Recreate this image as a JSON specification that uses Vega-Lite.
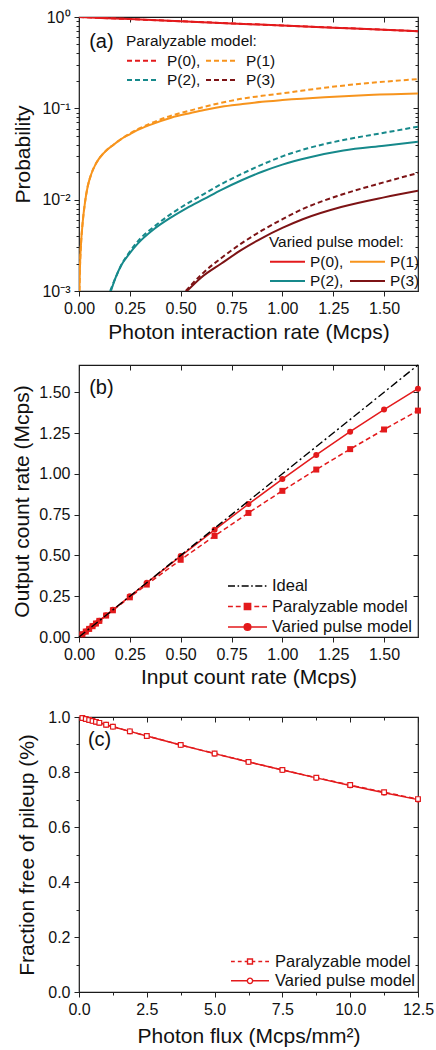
{
  "$schema": "https://vega.github.io/schema/vega-lite/v6.json",
  "background": "white",
  "padding": {"left": 11, "top": 8, "right": 3, "bottom": 3},
  "config": {
    "font": "Liberation Sans",
    "view": {"stroke": "#1a1a1a", "strokeWidth": 1.2},
    "axis": {"labelFontSize": 16, "titleFontSize": 21, "titleFontWeight": "normal", "labelColor": "#111", "titleColor": "#111", "tickColor": "#222", "tickWidth": 1, "domain": false, "grid": false, "labelPadding": 4, "labelOverlap": false, "labelFlush": false},
    "legend": {"labelColor": "#111", "titleColor": "#111"}
  },
  "resolve": {"scale": {"color": "independent"}, "legend": {"color": "independent"}},
  "datasets": {
    "a": [
      {"x": 0, "p": 1, "s": "P(0)", "m": "P"}, {"x": 0.25, "p": 0.948, "s": "P(0)", "m": "P"}, {"x": 0.5, "p": 0.898, "s": "P(0)", "m": "P"}, {"x": 0.75, "p": 0.851, "s": "P(0)", "m": "P"}, {"x": 1, "p": 0.807, "s": "P(0)", "m": "P"}, {"x": 1.25, "p": 0.765, "s": "P(0)", "m": "P"}, {"x": 1.5, "p": 0.725, "s": "P(0)", "m": "P"}, {"x": 1.667, "p": 0.699, "s": "P(0)", "m": "P"},
      {"x": 0, "p": 1, "s": "P(0)", "m": "V"}, {"x": 0.25, "p": 0.948, "s": "P(0)", "m": "V"}, {"x": 0.5, "p": 0.898, "s": "P(0)", "m": "V"}, {"x": 0.75, "p": 0.851, "s": "P(0)", "m": "V"}, {"x": 1, "p": 0.807, "s": "P(0)", "m": "V"}, {"x": 1.25, "p": 0.765, "s": "P(0)", "m": "V"}, {"x": 1.5, "p": 0.725, "s": "P(0)", "m": "V"}, {"x": 1.667, "p": 0.699, "s": "P(0)", "m": "V"},
      {"x": 0.002, "p": 0.001, "s": "P(1)", "m": "V"}, {"x": 0.005, "p": 0.0019, "s": "P(1)", "m": "V"}, {"x": 0.01, "p": 0.0033, "s": "P(1)", "m": "V"}, {"x": 0.018, "p": 0.0056, "s": "P(1)", "m": "V"}, {"x": 0.03, "p": 0.0095, "s": "P(1)", "m": "V"}, {"x": 0.043, "p": 0.014, "s": "P(1)", "m": "V"}, {"x": 0.06, "p": 0.019, "s": "P(1)", "m": "V"}, {"x": 0.084, "p": 0.025, "s": "P(1)", "m": "V"}, {"x": 0.125, "p": 0.033, "s": "P(1)", "m": "V"}, {"x": 0.17, "p": 0.04, "s": "P(1)", "m": "V"}, {"x": 0.207, "p": 0.046, "s": "P(1)", "m": "V"}, {"x": 0.25, "p": 0.052, "s": "P(1)", "m": "V"}, {"x": 0.289, "p": 0.058, "s": "P(1)", "m": "V"}, {"x": 0.35, "p": 0.066, "s": "P(1)", "m": "V"}, {"x": 0.453, "p": 0.079, "s": "P(1)", "m": "V"}, {"x": 0.55, "p": 0.089, "s": "P(1)", "m": "V"}, {"x": 0.616, "p": 0.096, "s": "P(1)", "m": "V"}, {"x": 0.7, "p": 0.104, "s": "P(1)", "m": "V"}, {"x": 0.797, "p": 0.111, "s": "P(1)", "m": "V"}, {"x": 0.9, "p": 0.118, "s": "P(1)", "m": "V"}, {"x": 1.0, "p": 0.123, "s": "P(1)", "m": "V"}, {"x": 1.207, "p": 0.132, "s": "P(1)", "m": "V"}, {"x": 1.4, "p": 0.139, "s": "P(1)", "m": "V"}, {"x": 1.667, "p": 0.145, "s": "P(1)", "m": "V"},
      {"x": 0.002, "p": 0.001, "s": "P(1)", "m": "P"}, {"x": 0.005, "p": 0.0019, "s": "P(1)", "m": "P"}, {"x": 0.01, "p": 0.0033, "s": "P(1)", "m": "P"}, {"x": 0.018, "p": 0.0056, "s": "P(1)", "m": "P"}, {"x": 0.03, "p": 0.0095, "s": "P(1)", "m": "P"}, {"x": 0.043, "p": 0.014, "s": "P(1)", "m": "P"}, {"x": 0.06, "p": 0.019, "s": "P(1)", "m": "P"}, {"x": 0.084, "p": 0.025, "s": "P(1)", "m": "P"}, {"x": 0.125, "p": 0.033, "s": "P(1)", "m": "P"}, {"x": 0.17, "p": 0.04, "s": "P(1)", "m": "P"}, {"x": 0.207, "p": 0.046, "s": "P(1)", "m": "P"}, {"x": 0.25, "p": 0.053, "s": "P(1)", "m": "P"}, {"x": 0.289, "p": 0.059, "s": "P(1)", "m": "P"}, {"x": 0.35, "p": 0.068, "s": "P(1)", "m": "P"}, {"x": 0.453, "p": 0.083, "s": "P(1)", "m": "P"}, {"x": 0.55, "p": 0.095, "s": "P(1)", "m": "P"}, {"x": 0.616, "p": 0.104, "s": "P(1)", "m": "P"}, {"x": 0.7, "p": 0.115, "s": "P(1)", "m": "P"}, {"x": 0.797, "p": 0.127, "s": "P(1)", "m": "P"}, {"x": 0.9, "p": 0.137, "s": "P(1)", "m": "P"}, {"x": 1.0, "p": 0.146, "s": "P(1)", "m": "P"}, {"x": 1.207, "p": 0.168, "s": "P(1)", "m": "P"}, {"x": 1.4, "p": 0.187, "s": "P(1)", "m": "P"}, {"x": 1.667, "p": 0.209, "s": "P(1)", "m": "P"},
      {"x": 0.157, "p": 0.001, "s": "P(2)", "m": "V"}, {"x": 0.18, "p": 0.0014, "s": "P(2)", "m": "V"}, {"x": 0.207, "p": 0.0019, "s": "P(2)", "m": "V"}, {"x": 0.25, "p": 0.0026, "s": "P(2)", "m": "V"}, {"x": 0.289, "p": 0.0033, "s": "P(2)", "m": "V"}, {"x": 0.371, "p": 0.0048, "s": "P(2)", "m": "V"}, {"x": 0.453, "p": 0.0064, "s": "P(2)", "m": "V"}, {"x": 0.53, "p": 0.0081, "s": "P(2)", "m": "V"}, {"x": 0.616, "p": 0.0102, "s": "P(2)", "m": "V"}, {"x": 0.7, "p": 0.0128, "s": "P(2)", "m": "V"}, {"x": 0.797, "p": 0.0162, "s": "P(2)", "m": "V"}, {"x": 0.9, "p": 0.0202, "s": "P(2)", "m": "V"}, {"x": 1.0, "p": 0.0242, "s": "P(2)", "m": "V"}, {"x": 1.125, "p": 0.0288, "s": "P(2)", "m": "V"}, {"x": 1.3, "p": 0.0345, "s": "P(2)", "m": "V"}, {"x": 1.5, "p": 0.039, "s": "P(2)", "m": "V"}, {"x": 1.667, "p": 0.043, "s": "P(2)", "m": "V"},
      {"x": 0.153, "p": 0.001, "s": "P(2)", "m": "P"}, {"x": 0.18, "p": 0.0014, "s": "P(2)", "m": "P"}, {"x": 0.207, "p": 0.0019, "s": "P(2)", "m": "P"}, {"x": 0.25, "p": 0.0027, "s": "P(2)", "m": "P"}, {"x": 0.289, "p": 0.0035, "s": "P(2)", "m": "P"}, {"x": 0.371, "p": 0.0051, "s": "P(2)", "m": "P"}, {"x": 0.453, "p": 0.007, "s": "P(2)", "m": "P"}, {"x": 0.53, "p": 0.009, "s": "P(2)", "m": "P"}, {"x": 0.616, "p": 0.0116, "s": "P(2)", "m": "P"}, {"x": 0.7, "p": 0.0148, "s": "P(2)", "m": "P"}, {"x": 0.797, "p": 0.019, "s": "P(2)", "m": "P"}, {"x": 0.9, "p": 0.0242, "s": "P(2)", "m": "P"}, {"x": 1.0, "p": 0.0298, "s": "P(2)", "m": "P"}, {"x": 1.125, "p": 0.0365, "s": "P(2)", "m": "P"}, {"x": 1.3, "p": 0.045, "s": "P(2)", "m": "P"}, {"x": 1.5, "p": 0.054, "s": "P(2)", "m": "P"}, {"x": 1.667, "p": 0.063, "s": "P(2)", "m": "P"},
      {"x": 0.531, "p": 0.001, "s": "P(3)", "m": "V"}, {"x": 0.6, "p": 0.0014, "s": "P(3)", "m": "V"}, {"x": 0.7, "p": 0.002, "s": "P(3)", "m": "V"}, {"x": 0.797, "p": 0.0028, "s": "P(3)", "m": "V"}, {"x": 0.9, "p": 0.0038, "s": "P(3)", "m": "V"}, {"x": 1.0, "p": 0.0049, "s": "P(3)", "m": "V"}, {"x": 1.1, "p": 0.0061, "s": "P(3)", "m": "V"}, {"x": 1.289, "p": 0.0083, "s": "P(3)", "m": "V"}, {"x": 1.5, "p": 0.0106, "s": "P(3)", "m": "V"}, {"x": 1.667, "p": 0.0125, "s": "P(3)", "m": "V"},
      {"x": 0.525, "p": 0.001, "s": "P(3)", "m": "P"}, {"x": 0.6, "p": 0.0015, "s": "P(3)", "m": "P"}, {"x": 0.7, "p": 0.0023, "s": "P(3)", "m": "P"}, {"x": 0.797, "p": 0.0033, "s": "P(3)", "m": "P"}, {"x": 0.9, "p": 0.0046, "s": "P(3)", "m": "P"}, {"x": 1.0, "p": 0.0061, "s": "P(3)", "m": "P"}, {"x": 1.1, "p": 0.0079, "s": "P(3)", "m": "P"}, {"x": 1.289, "p": 0.0113, "s": "P(3)", "m": "P"}, {"x": 1.5, "p": 0.0155, "s": "P(3)", "m": "P"}, {"x": 1.667, "p": 0.0196, "s": "P(3)", "m": "P"}
    ],
    "b": [
      {"x": 0, "y": 0, "m": "Ideal"}, {"x": 1.667, "y": 1.667, "m": "Ideal"},
      {"x": 0.0167, "y": 0.0167, "m": "Paralyzable model"}, {"x": 0.0333, "y": 0.0332, "m": "Paralyzable model"}, {"x": 0.05, "y": 0.0497, "m": "Paralyzable model"}, {"x": 0.0667, "y": 0.0662, "m": "Paralyzable model"}, {"x": 0.0833, "y": 0.0825, "m": "Paralyzable model"}, {"x": 0.1, "y": 0.0989, "m": "Paralyzable model"}, {"x": 0.1333, "y": 0.1314, "m": "Paralyzable model"}, {"x": 0.1667, "y": 0.1637, "m": "Paralyzable model"}, {"x": 0.25, "y": 0.2432, "m": "Paralyzable model"}, {"x": 0.3333, "y": 0.3213, "m": "Paralyzable model"}, {"x": 0.5, "y": 0.4732, "m": "Paralyzable model"}, {"x": 0.6667, "y": 0.6195, "m": "Paralyzable model"}, {"x": 0.8333, "y": 0.7603, "m": "Paralyzable model"}, {"x": 1.0, "y": 0.8958, "m": "Paralyzable model"}, {"x": 1.1667, "y": 1.0262, "m": "Paralyzable model"}, {"x": 1.3333, "y": 1.1514, "m": "Paralyzable model"}, {"x": 1.5, "y": 1.2718, "m": "Paralyzable model"}, {"x": 1.6667, "y": 1.3875, "m": "Paralyzable model"},
      {"x": 0.0167, "y": 0.0167, "m": "Varied pulse model"}, {"x": 0.0333, "y": 0.0333, "m": "Varied pulse model"}, {"x": 0.05, "y": 0.05, "m": "Varied pulse model"}, {"x": 0.0667, "y": 0.0667, "m": "Varied pulse model"}, {"x": 0.0833, "y": 0.0833, "m": "Varied pulse model"}, {"x": 0.1, "y": 0.1, "m": "Varied pulse model"}, {"x": 0.1333, "y": 0.1332, "m": "Varied pulse model"}, {"x": 0.1667, "y": 0.1665, "m": "Varied pulse model"}, {"x": 0.25, "y": 0.2495, "m": "Varied pulse model"}, {"x": 0.3333, "y": 0.3321, "m": "Varied pulse model"}, {"x": 0.5, "y": 0.4959, "m": "Varied pulse model"}, {"x": 0.6667, "y": 0.6571, "m": "Varied pulse model"}, {"x": 0.8333, "y": 0.8146, "m": "Varied pulse model"}, {"x": 1.0, "y": 0.9678, "m": "Varied pulse model"}, {"x": 1.1667, "y": 1.1159, "m": "Varied pulse model"}, {"x": 1.3333, "y": 1.258, "m": "Varied pulse model"}, {"x": 1.5, "y": 1.3936, "m": "Varied pulse model"}, {"x": 1.6667, "y": 1.522, "m": "Varied pulse model"}
    ],
    "c": [
      {"x": 0.125, "y": 0.9964, "m": "Paralyzable model"}, {"x": 0.25, "y": 0.9929, "m": "Paralyzable model"}, {"x": 0.375, "y": 0.9893, "m": "Paralyzable model"}, {"x": 0.5, "y": 0.9858, "m": "Paralyzable model"}, {"x": 0.625, "y": 0.9823, "m": "Paralyzable model"}, {"x": 0.75, "y": 0.9788, "m": "Paralyzable model"}, {"x": 1.0, "y": 0.9718, "m": "Paralyzable model"}, {"x": 1.25, "y": 0.9649, "m": "Paralyzable model"}, {"x": 1.875, "y": 0.9478, "m": "Paralyzable model"}, {"x": 2.5, "y": 0.931, "m": "Paralyzable model"}, {"x": 3.75, "y": 0.8985, "m": "Paralyzable model"}, {"x": 5.0, "y": 0.8671, "m": "Paralyzable model"}, {"x": 6.25, "y": 0.8368, "m": "Paralyzable model"}, {"x": 7.5, "y": 0.8076, "m": "Paralyzable model"}, {"x": 8.75, "y": 0.7795, "m": "Paralyzable model"}, {"x": 10.0, "y": 0.7525, "m": "Paralyzable model"}, {"x": 11.25, "y": 0.7265, "m": "Paralyzable model"}, {"x": 12.5, "y": 0.7015, "m": "Paralyzable model"},
      {"x": 0.125, "y": 0.9964, "m": "Varied pulse model"}, {"x": 0.25, "y": 0.9929, "m": "Varied pulse model"}, {"x": 0.375, "y": 0.9893, "m": "Varied pulse model"}, {"x": 0.5, "y": 0.9858, "m": "Varied pulse model"}, {"x": 0.625, "y": 0.9823, "m": "Varied pulse model"}, {"x": 0.75, "y": 0.9788, "m": "Varied pulse model"}, {"x": 1.0, "y": 0.9718, "m": "Varied pulse model"}, {"x": 1.25, "y": 0.9649, "m": "Varied pulse model"}, {"x": 1.875, "y": 0.9478, "m": "Varied pulse model"}, {"x": 2.5, "y": 0.931, "m": "Varied pulse model"}, {"x": 3.75, "y": 0.8983, "m": "Varied pulse model"}, {"x": 5.0, "y": 0.8668, "m": "Varied pulse model"}, {"x": 6.25, "y": 0.8363, "m": "Varied pulse model"}, {"x": 7.5, "y": 0.807, "m": "Varied pulse model"}, {"x": 8.75, "y": 0.7786, "m": "Varied pulse model"}, {"x": 10.0, "y": 0.7513, "m": "Varied pulse model"}, {"x": 11.25, "y": 0.7249, "m": "Varied pulse model"}, {"x": 12.5, "y": 0.6995, "m": "Varied pulse model"}
    ]
  },
  "spacing": 18,
  "vconcat": [
    {
      "width": 339, "height": 274,
      "data": {"name": "a"},
      "resolve": {"scale": {"color": "independent"}, "axis": {"x": "independent", "y": "independent"}, "legend": {"color": "independent"}},
      "layer": [
        {
          "transform": [{"filter": "datum.m == 'P'"}],
          "mark": {"type": "line", "strokeDash": [5, 3], "strokeWidth": 2, "clip": true, "interpolate": "monotone"},
          "encoding": {
            "x": {"field": "x", "type": "quantitative", "scale": {"domain": [0, 1.667], "nice": false}, "axis": {"orient": "bottom", "values": [0, 0.25, 0.5, 0.75, 1, 1.25, 1.5], "format": ".2f", "title": "Photon interaction rate (Mcps)", "tickSize": 5, "titlePadding": 5}},
            "y": {"field": "p", "type": "quantitative", "scale": {"type": "log", "domain": [0.001, 1], "nice": false}, "axis": {"orient": "left", "title": "Probability", "titlePadding": 8, "values": [0.001, 0.002, 0.003, 0.004, 0.005, 0.006, 0.007, 0.008, 0.009, 0.01, 0.02, 0.03, 0.04, 0.05, 0.06, 0.07, 0.08, 0.09, 0.1, 0.2, 0.3, 0.4, 0.5, 0.6, 0.7, 0.8, 0.9, 1], "labelExpr": "datum.value == 1 ? '10⁰' : datum.value == 0.1 ? '10⁻¹' : datum.value == 0.01 ? '10⁻²' : datum.value == 0.001 ? '10⁻³' : ''", "tickSize": {"condition": {"test": "indexof([0.001,0.01,0.1,1], datum.value) >= 0", "value": 5}, "value": 3}}},
            "color": {"field": "s", "type": "nominal", "scale": {"domain": ["P(0)", "P(1)", "P(2)", "P(3)"], "range": ["#e31a1c", "#f7941d", "#16898b", "#7d1315"]},
              "legend": {"title": "Paralyzable model:", "orient": "none", "direction": "horizontal", "legendX": 47, "legendY": 17, "columns": 2, "symbolType": "stroke", "symbolSize": 1024, "symbolStrokeWidth": 2, "symbolDash": [5, 3], "clipHeight": 16, "rowPadding": 2.5, "columnPadding": 4, "labelOffset": 7, "labelFontSize": 15.4, "titleFontSize": 15.4, "titleFontWeight": "normal", "titlePadding": 3, "padding": 0, "labelExpr": "datum.label + ((datum.label == 'P(0)' || datum.label == 'P(2)') ? ',' : '')"}}
          }
        },
        {
          "transform": [{"filter": "datum.m == 'V'"}],
          "mark": {"type": "line", "strokeWidth": 2, "clip": true, "interpolate": "monotone"},
          "encoding": {
            "x": {"field": "x", "type": "quantitative", "scale": {"domain": [0, 1.667], "nice": false}, "axis": null},
            "y": {"field": "p", "type": "quantitative", "scale": {"type": "log", "domain": [0.001, 1], "nice": false}, "axis": null},
            "color": {"field": "s", "type": "nominal", "scale": {"domain": ["P(0)", "P(1)", "P(2)", "P(3)"], "range": ["#e31a1c", "#f7941d", "#16898b", "#7d1315"]},
              "legend": {"title": "Varied pulse model:", "orient": "none", "direction": "horizontal", "legendX": 190, "legendY": 218, "columns": 2, "symbolType": "stroke", "symbolSize": 1225, "symbolStrokeWidth": 2, "clipHeight": 16, "rowPadding": 2.5, "columnPadding": 5, "labelOffset": 4, "labelFontSize": 15.4, "titleFontSize": 15.4, "titleFontWeight": "normal", "titlePadding": 3, "padding": 0, "labelExpr": "datum.label + ((datum.label == 'P(0)' || datum.label == 'P(2)') ? ',' : '')"}}
          }
        },
        {
          "mark": {"type": "line", "opacity": 0},
          "encoding": {
            "x": {"field": "x", "type": "quantitative", "scale": {"domain": [0, 1.667], "nice": false}, "axis": {"orient": "top", "values": [0, 0.25, 0.5, 0.75, 1, 1.25, 1.5], "labels": false, "title": null, "tickSize": -5}},
            "y": {"field": "p", "type": "quantitative", "scale": {"type": "log", "domain": [0.001, 1], "nice": false}, "axis": {"orient": "right", "title": null, "labels": false, "values": [0.001, 0.002, 0.003, 0.004, 0.005, 0.006, 0.007, 0.008, 0.009, 0.01, 0.02, 0.03, 0.04, 0.05, 0.06, 0.07, 0.08, 0.09, 0.1, 0.2, 0.3, 0.4, 0.5, 0.6, 0.7, 0.8, 0.9, 1], "tickSize": {"condition": {"test": "indexof([0.001,0.01,0.1,1], datum.value) >= 0", "value": -5}, "value": -3}}},
            "detail": {"field": "s"}
          }
        },
        {
          "data": {"values": [{"x": 0.05, "p": 0.53, "t": "(a)"}]},
          "mark": {"type": "text", "align": "left", "baseline": "middle", "fontSize": 20, "color": "#111"},
          "encoding": {
            "x": {"field": "x", "type": "quantitative", "axis": null},
            "y": {"field": "p", "type": "quantitative", "axis": null},
            "text": {"field": "t"}
          }
        }
      ]
    },
    {
      "width": 339, "height": 272,
      "data": {"name": "b"},
      "resolve": {"axis": {"x": "independent", "y": "independent"}},
      "layer": [
        {
          "transform": [{"filter": "datum.m == 'Paralyzable model'"}],
          "mark": {"type": "line", "color": "#e31a1c", "strokeDash": [5, 3], "strokeWidth": 1.5, "point": {"shape": "square", "filled": true, "size": 36, "color": "#e31a1c"}},
          "encoding": {
            "x": {"field": "x", "type": "quantitative", "scale": {"domain": [0, 1.667], "nice": false}, "axis": {"orient": "bottom", "values": [0, 0.25, 0.5, 0.75, 1, 1.25, 1.5], "format": ".2f", "title": "Input count rate (Mcps)", "tickSize": 5, "titlePadding": 4}},
            "y": {"field": "y", "type": "quantitative", "scale": {"domain": [0, 1.667], "nice": false}, "axis": {"orient": "left", "values": [0, 0.25, 0.5, 0.75, 1, 1.25, 1.5], "format": ".2f", "title": "Output count rate (Mcps)", "tickSize": 5, "titlePadding": 6}}
          }
        },
        {
          "transform": [{"filter": "datum.m == 'Varied pulse model'"}],
          "mark": {"type": "line", "color": "#e31a1c", "strokeWidth": 1.5, "point": {"shape": "circle", "filled": true, "size": 36, "color": "#e31a1c"}},
          "encoding": {
            "x": {"field": "x", "type": "quantitative", "scale": {"domain": [0, 1.667], "nice": false}, "axis": null},
            "y": {"field": "y", "type": "quantitative", "scale": {"domain": [0, 1.667], "nice": false}, "axis": null}
          }
        },
        {
          "transform": [{"filter": "datum.m == 'Ideal'"}],
          "mark": {"type": "line", "color": "#000", "strokeDash": [8, 3, 2, 3], "strokeWidth": 1.4},
          "encoding": {
            "x": {"field": "x", "type": "quantitative", "scale": {"domain": [0, 1.667], "nice": false}, "axis": null},
            "y": {"field": "y", "type": "quantitative", "scale": {"domain": [0, 1.667], "nice": false}, "axis": null}
          }
        },
        {
          "mark": {"type": "line", "opacity": 0},
          "encoding": {
            "x": {"field": "x", "type": "quantitative", "scale": {"domain": [0, 1.667], "nice": false}, "axis": {"orient": "top", "values": [0, 0.25, 0.5, 0.75, 1, 1.25, 1.5], "labels": false, "title": null, "tickSize": -5}},
            "y": {"field": "y", "type": "quantitative", "scale": {"domain": [0, 1.667], "nice": false}, "axis": {"orient": "right", "values": [0, 0.25, 0.5, 0.75, 1, 1.25, 1.5], "labels": false, "title": null, "tickSize": -5}},
            "color": {"field": "m", "type": "nominal", "scale": {"domain": ["Ideal", "Paralyzable model", "Varied pulse model"], "range": ["#000000", "#e31a1c", "#e31a1c"]},
              "legend": {"title": null, "orient": "none", "legendX": 148, "legendY": 212, "symbolSize": 1521, "symbolStrokeWidth": 1.5, "clipHeight": 18, "rowPadding": 2.5, "labelOffset": 4, "labelFontSize": 16.5, "padding": 0,
                "encode": {"symbols": {"update": {
                  "shape": {"signal": "datum.value == 'Ideal' ? 'M-1,0H-0.64M-0.51,0H-0.43M-0.3,0H0.06M0.19,0H0.27M0.4,0H0.76M0.89,0H0.97' : datum.value == 'Paralyzable model' ? 'M-1,0H-0.75M-0.6,0H-0.35M-0.2,0H0.2M0.35,0H0.6M0.75,0H1M-0.16,-0.16H0.16V0.16H-0.16Z' : 'M-1,0H1M0.17,0A0.17,0.17 0 1,1 -0.17,0A0.17,0.17 0 1,1 0.17,0Z'"},
                  "fill": {"signal": "datum.value == 'Ideal' ? 'transparent' : '#e31a1c'"},
                  "opacity": {"value": 1}, "strokeOpacity": {"value": 1}, "fillOpacity": {"value": 1}, "strokeDash": {"value": []}
                }}}}}
          }
        },
        {
          "data": {"values": [{"x": 0.05, "y": 1.525, "t": "(b)"}]},
          "mark": {"type": "text", "align": "left", "baseline": "middle", "fontSize": 20, "color": "#111"},
          "encoding": {
            "x": {"field": "x", "type": "quantitative", "scale": {"domain": [0, 1.667], "nice": false}, "axis": null},
            "y": {"field": "y", "type": "quantitative", "scale": {"domain": [0, 1.667], "nice": false}, "axis": null},
            "text": {"field": "t"}
          }
        }
      ]
    },
    {
      "width": 339, "height": 275,
      "data": {"name": "c"},
      "resolve": {"axis": {"x": "independent", "y": "independent"}},
      "layer": [
        {
          "transform": [{"filter": "datum.m == 'Varied pulse model'"}],
          "mark": {"type": "line", "color": "#e31a1c", "strokeWidth": 1.5},
          "encoding": {
            "x": {"field": "x", "type": "quantitative", "scale": {"domain": [0, 12.5], "nice": false}, "axis": {"orient": "bottom", "values": [0, 1.25, 2.5, 3.75, 5, 6.25, 7.5, 8.75, 10, 11.25, 12.5], "labelExpr": "indexof([0,2.5,5,7.5,10,12.5], datum.value) >= 0 ? format(datum.value, '.1f') : ''", "title": "Photon flux (Mcps/mm²)", "tickSize": {"condition": {"test": "indexof([0,2.5,5,7.5,10,12.5], datum.value) >= 0", "value": 5}, "value": 3}, "titlePadding": 8}},
            "y": {"field": "y", "type": "quantitative", "scale": {"domain": [0, 1], "nice": false}, "axis": {"orient": "left", "values": [0, 0.1, 0.2, 0.3, 0.4, 0.5, 0.6, 0.7, 0.8, 0.9, 1], "labelExpr": "indexof([0,0.2,0.4,0.6,0.8,1], datum.value) >= 0 ? format(datum.value, '.1f') : ''", "title": "Fraction free of pileup (%)", "tickSize": {"condition": {"test": "indexof([0,0.2,0.4,0.6,0.8,1], datum.value) >= 0", "value": 5}, "value": 3}, "titlePadding": 10}}
          }
        },
        {
          "transform": [{"filter": "datum.m == 'Varied pulse model'"}],
          "mark": {"type": "point", "shape": "circle", "filled": true, "fill": "white", "stroke": "#e31a1c", "strokeWidth": 1.2, "size": 22, "opacity": 1},
          "encoding": {
            "x": {"field": "x", "type": "quantitative", "scale": {"domain": [0, 12.5], "nice": false}, "axis": null},
            "y": {"field": "y", "type": "quantitative", "scale": {"domain": [0, 1], "nice": false}, "axis": null}
          }
        },
        {
          "transform": [{"filter": "datum.m == 'Paralyzable model'"}],
          "mark": {"type": "line", "color": "#e31a1c", "strokeWidth": 1.5, "strokeDash": [5, 3]},
          "encoding": {
            "x": {"field": "x", "type": "quantitative", "scale": {"domain": [0, 12.5], "nice": false}, "axis": null},
            "y": {"field": "y", "type": "quantitative", "scale": {"domain": [0, 1], "nice": false}, "axis": null}
          }
        },
        {
          "transform": [{"filter": "datum.m == 'Paralyzable model'"}],
          "mark": {"type": "point", "shape": "square", "filled": true, "fill": "white", "stroke": "#e31a1c", "strokeWidth": 1.2, "size": 22, "opacity": 1},
          "encoding": {
            "x": {"field": "x", "type": "quantitative", "scale": {"domain": [0, 12.5], "nice": false}, "axis": null},
            "y": {"field": "y", "type": "quantitative", "scale": {"domain": [0, 1], "nice": false}, "axis": null}
          }
        },
        {
          "mark": {"type": "line", "opacity": 0},
          "encoding": {
            "x": {"field": "x", "type": "quantitative", "scale": {"domain": [0, 12.5], "nice": false}, "axis": {"orient": "top", "values": [0, 1.25, 2.5, 3.75, 5, 6.25, 7.5, 8.75, 10, 11.25, 12.5], "labels": false, "title": ".", "titleFontSize": 2, "titleColor": "white", "titlePadding": 7, "tickSize": {"condition": {"test": "indexof([0,2.5,5,7.5,10,12.5], datum.value) >= 0", "value": -5}, "value": -3}}},
            "y": {"field": "y", "type": "quantitative", "scale": {"domain": [0, 1], "nice": false}, "axis": {"orient": "right", "values": [0, 0.1, 0.2, 0.3, 0.4, 0.5, 0.6, 0.7, 0.8, 0.9, 1], "labels": false, "title": null, "tickSize": {"condition": {"test": "indexof([0,0.2,0.4,0.6,0.8,1], datum.value) >= 0", "value": -5}, "value": -3}}},
            "color": {"field": "m", "type": "nominal", "scale": {"domain": ["Paralyzable model", "Varied pulse model"], "range": ["#e31a1c", "#e31a1c"]},
              "legend": {"title": null, "orient": "none", "legendX": 151, "legendY": 236, "symbolSize": 1444, "symbolStrokeWidth": 1.4, "clipHeight": 17, "rowPadding": 2.3, "labelOffset": 5, "labelFontSize": 16.5, "padding": 0,
                "encode": {"symbols": {"update": {
                  "shape": {"signal": "datum.value == 'Paralyzable model' ? 'M-1,0H-0.8M-0.64,0H-0.44M-0.28,0H-0.13M0.13,0H0.28M0.44,0H0.64M0.8,0H1M-0.13,-0.13H0.13V0.13H-0.13Z' : 'M-1,0H-0.14M0.14,0H1M0.14,0A0.14,0.14 0 1,1 -0.14,0A0.14,0.14 0 1,1 0.14,0Z'"},
                  "fill": {"value": "white"},
                  "opacity": {"value": 1}, "strokeOpacity": {"value": 1}, "fillOpacity": {"value": 1}, "strokeDash": {"value": []}
                }}}}}
          }
        },
        {
          "data": {"values": [{"x": 0.33, "y": 0.916, "t": "(c)"}]},
          "mark": {"type": "text", "align": "left", "baseline": "middle", "fontSize": 20, "color": "#111"},
          "encoding": {
            "x": {"field": "x", "type": "quantitative", "scale": {"domain": [0, 12.5], "nice": false}, "axis": null},
            "y": {"field": "y", "type": "quantitative", "scale": {"domain": [0, 1], "nice": false}, "axis": null},
            "text": {"field": "t"}
          }
        }
      ]
    }
  ]
}
